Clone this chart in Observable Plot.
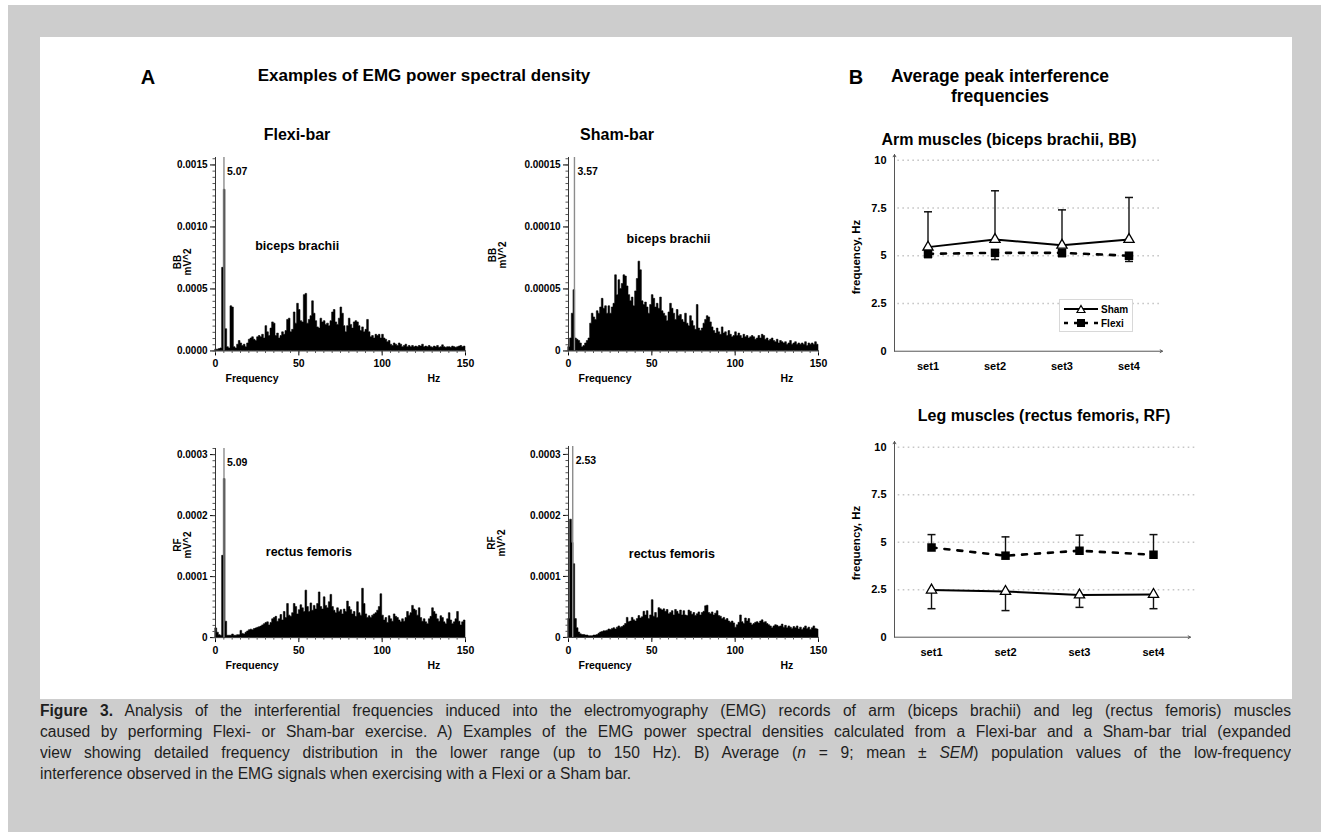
<!DOCTYPE html>
<html><head><meta charset="utf-8">
<script src="https://cdn.jsdelivr.net/npm/d3@7"></script>
<script src="https://cdn.jsdelivr.net/npm/@observablehq/plot@0.6"></script>
<style>
html,body{margin:0;padding:0;background:#fff;}
#root{position:relative;width:1321px;height:832px;overflow:hidden;font-family:"Liberation Sans",Arial,Helvetica,sans-serif;color:#000;}
.gray{position:absolute;left:8px;top:5px;right:0;bottom:0;background:#cdcdcd;}
.panel{position:absolute;left:40px;top:37px;width:1252px;height:662px;background:#fff;}
.t{position:absolute;white-space:nowrap;transform:translate(-50%,-50%);font-weight:bold;color:#000;text-align:center;}
.rot{transform:translate(-50%,-50%) rotate(-90deg);}
.cap{position:absolute;left:40px;top:700px;width:1251px;font-size:15.6px;color:#1e1e1e;line-height:21px;}
.cap div{height:21px;overflow:hidden;}
.just{text-align:justify;text-align-last:justify;}
.legend{position:absolute;left:1059px;top:299px;width:72px;height:31px;border:1px solid #d8d8d8;background:#fff;font-size:10px;font-weight:bold;}
.legend .row{position:absolute;left:3px;height:12px;display:flex;align-items:center;}
.legend svg{margin-right:2px;}
svg.plot{position:absolute;overflow:visible;}
</style></head>
<body><div id="root">
<div class="gray"></div>
<div class="panel"></div>
</div>
<script>
// ---------------- DATA ----------------
// Power spectra, 1-Hz bins starting at 0 Hz (bin i covers i..i+1 Hz)
const flexiBB = [ // units of 1e-4 mV^2
 0.1,0.1,0.15,0.2,6.7,13.0,1.75,0.3,0.2,3.6,
 3.5,0.3,0.2,0.5,0.8,0.6,0.4,0.5,0.3,0.6,
 0.9,1.0,1.1,0.9,0.8,1.1,1.2,1.1,1.3,1.0,
 2.0,1.5,1.2,1.8,2.3,2.2,1.2,1.4,1.0,1.2,
 1.5,1.3,1.6,2.5,2.6,1.5,1.7,3.1,2.2,3.8,
 3.3,2.4,2.3,4.5,4.6,2.2,2.5,2.8,4.0,3.0,
 2.4,1.9,1.8,2.6,2.3,2.4,2.1,2.2,2.0,2.4,
 3.1,3.3,2.3,2.1,2.6,3.5,3.0,2.0,1.5,2.0,
 2.6,2.1,1.8,2.3,2.4,2.3,2.0,1.6,1.9,1.5,
 1.7,2.5,1.5,1.1,1.2,1.0,1.3,1.2,1.3,1.0,
 1.3,1.0,0.9,0.7,0.8,0.5,0.4,0.6,0.5,0.4,
 0.6,0.5,0.3,0.4,0.5,0.3,0.4,0.3,0.4,0.3,
 0.35,0.3,0.4,0.35,0.5,0.3,0.35,0.3,0.4,0.3,
 0.25,0.35,0.3,0.4,0.25,0.3,0.45,0.3,0.25,0.3,
 0.3,0.25,0.35,0.3,0.25,0.3,0.35,0.4,0.3,0.35];
const shamBB = [ // units of 1e-5 mV^2
 0.3,1.0,3.0,4.9,1.0,0.9,0.8,0.6,0.3,0.4,
 0.6,0.8,1.0,2.2,3.0,2.7,2.5,3.2,3.0,3.5,
 4.2,3.4,3.6,3.0,3.6,3.0,3.5,3.8,6.1,4.5,
 5.7,5.0,5.4,6.1,6.0,5.2,4.5,4.0,4.3,3.6,
 4.8,5.8,7.2,6.5,4.0,3.7,3.9,3.5,3.0,3.7,
 4.5,4.2,3.5,3.8,3.4,4.3,3.2,3.0,2.8,2.4,
 3.1,3.8,3.4,3.0,2.5,3.3,2.8,2.9,2.5,2.3,
 3.0,2.2,2.0,2.8,2.4,2.0,1.7,3.7,1.8,1.6,
 1.8,2.2,2.5,2.8,2.7,2.3,1.9,1.6,1.4,1.8,
 1.5,1.3,1.9,1.4,1.5,1.2,1.6,1.3,1.1,1.2,
 1.5,1.2,1.4,1.2,1.0,1.3,1.1,1.2,1.0,1.1,
 1.2,1.1,0.9,1.0,1.2,1.0,1.3,1.2,0.9,1.0,
 0.8,0.9,1.0,0.8,0.7,0.9,0.6,0.8,0.7,0.6,
 0.7,0.5,0.6,0.8,0.5,0.6,0.7,0.5,0.6,0.5,
 0.6,0.5,0.7,0.4,0.6,0.5,0.6,0.5,0.7,0.5];
const flexiRF = [ // units of 1e-5 mV^2
 1.5,0.8,0.4,0.3,13.4,26,2.6,0.3,0.3,0.3,
 0.5,0.3,0.3,0.4,0.4,1.1,0.6,0.5,0.8,1.0,
 1.2,1.3,1.2,1.4,1.5,1.6,1.7,1.8,2.0,2.2,
 2.4,2.5,2.0,2.4,3.0,3.2,3.4,2.6,3.0,3.7,
 2.8,4.2,3.2,5.5,3.6,3.4,4.0,5.5,5.0,3.8,
 4.5,5.3,4.8,4.2,7.7,5.0,4.2,5.6,4.4,5.2,
 4.6,5.5,7.4,5.0,4.6,6.6,5.2,4.8,5.8,7.0,
 5.0,4.4,4.0,4.8,4.2,4.5,3.8,4.6,4.2,5.9,
 5.0,4.5,3.8,4.2,3.4,5.8,4.0,3.6,8.0,5.5,
 3.8,3.2,3.5,3.2,3.6,3.8,4.0,4.4,5.0,7.1,
 3.6,2.8,3.2,2.4,3.5,3.0,2.6,3.8,3.4,3.2,
 2.8,2.5,3.0,2.6,3.2,4.2,3.6,4.0,5.2,4.6,
 4.4,3.6,4.8,3.2,2.6,3.0,2.5,2.2,3.0,3.4,
 4.8,4.2,3.8,3.0,2.6,3.5,3.2,2.5,2.2,3.0,
 4.0,2.8,2.2,2.5,3.0,4.2,2.6,2.0,2.5,2.8];
const shamRF = [ // units of 1e-5 mV^2
 3.0,19.3,15.5,12.0,3.0,1.5,0.8,0.5,0.4,0.4,
 0.3,0.3,0.2,0.2,0.2,0.3,0.3,0.4,0.6,0.8,
 0.9,1.0,1.0,1.1,1.3,1.2,1.4,1.5,1.3,1.6,
 1.8,1.6,1.7,1.9,2.2,3.2,2.5,2.6,3.2,2.8,
 2.6,3.0,3.5,3.1,3.3,4.2,3.6,4.3,3.0,3.6,
 6.1,3.4,4.0,3.2,4.8,4.6,4.4,4.6,4.2,4.5,
 3.8,4.0,4.3,3.6,4.5,4.2,3.8,4.4,3.6,4.3,
 3.6,3.5,4.4,4.2,3.7,4.0,3.5,3.8,4.1,3.6,
 4.0,4.2,5.1,5.2,4.0,3.8,4.1,3.6,3.9,4.3,
 3.5,3.4,3.0,3.2,2.8,3.0,2.6,2.4,2.6,2.3,
 1.6,2.0,2.4,3.6,2.5,2.2,3.1,2.6,3.0,2.3,
 2.0,2.2,2.4,2.5,2.3,2.6,2.8,2.4,2.5,2.2,
 2.0,1.8,1.5,1.8,2.0,1.9,1.7,1.8,2.1,1.6,
 1.9,1.5,1.8,1.6,1.4,1.7,1.5,1.8,1.3,1.6,
 1.2,1.5,1.8,1.4,1.6,1.2,1.5,1.8,1.4,1.3];

const peakFreqs = [5.07, 3.57, 5.09, 2.53];
const peakLabels = ["5.07", "3.57", "5.09", "2.53"];

const freqTicks = [0, 50, 100, 150];
const bbFlexiTicks = [0, 5, 10, 15];
const bbFlexiTickLabels = ["0.0000", "0.0005", "0.0010", "0.0015"];
const bbShamTicks = [0, 5, 10, 15];
const bbShamTickLabels = ["0", "0.00005", "0.00010", "0.00015"];
const rfTicks = [0, 10, 20, 30];
const rfTickLabels = ["0", "0.0001", "0.0002", "0.0003"];

// Average peak interference frequencies (mean and SEM, Hz)
const sets = ["set1", "set2", "set3", "set4"];
const armShamMean = [5.45, 5.85, 5.55, 5.85];
const armShamSEM = [1.85, 2.55, 1.85, 2.2];
const armFlexiMean = [5.1, 5.15, 5.15, 5.0];
const armFlexiSEM = [0.2, 0.35, 0.2, 0.3];
const legShamMean = [2.48, 2.41, 2.22, 2.25];
const legShamSEM = [0.98, 1.01, 0.65, 0.75];
const legFlexiMean = [4.72, 4.29, 4.55, 4.34];
const legFlexiSEM = [0.68, 0.99, 0.82, 1.06];
const freqTicksB = [0, 2.5, 5, 7.5, 10];
const freqTickLabelsB = ["0", "2.5", "5", "7.5", "10"];

// ---------------- LAYOUT HELPERS ----------------
const root = document.getElementById("root");
const FONT = '"Liberation Sans", Arial, Helvetica, sans-serif';
function addText(txt, x, y, size, extra) {
  const d = document.createElement("div");
  d.className = "t" + (extra && extra.rot ? " rot" : "");
  d.style.left = x + "px"; d.style.top = y + "px"; d.style.fontSize = size + "px";
  if (extra && extra.lh) d.style.lineHeight = extra.lh + "px";
  d.innerHTML = txt;
  root.appendChild(d);
}
function place(svg, left, top) {
  svg.classList.add("plot");
  svg.style.left = left + "px"; svg.style.top = top + "px";
  svg.style.maxWidth = "none";
  root.appendChild(svg);
}

function spectrum(cfg) {
  const mL = 62, mR = 14, mT = 12, mB = 44, plotW = 250;
  const pxPerUnit = (cfg.yBase - cfg.yRefPx) / cfg.refVal;
  const plotH = cfg.yMax * pxPerUnit;
  const data = cfg.values.map((v, i) => ({f: i, v}));
  data.push({f: cfg.values.length, v: cfg.values[cfg.values.length - 1]});
  const minorY = d3.range(0, cfg.yMax + 1e-9, cfg.minorStep);
  const minorX = d3.range(0, 151, 5);
  const svg = Plot.plot({
    width: mL + plotW + mR, height: mT + plotH + mB,
    marginLeft: mL, marginRight: mR, marginTop: mT, marginBottom: mB,
    x: {domain: [0, 150]}, y: {domain: [0, cfg.yMax]},
    style: {fontFamily: FONT, fontSize: "10px", fontWeight: "bold", background: "transparent", color: "#000"},
    marks: [
      Plot.areaY(data, {x: "f", y: "v", curve: "step-after", fill: "#000", stroke: "#000", strokeWidth: 0.6}),
      Plot.ruleX([cfg.peak], {y1: 0, y2: cfg.yMax, stroke: "#8c8c8c", strokeWidth: 1.4}),
      Plot.text([cfg.peakLabel], {x: cfg.peak, y: cfg.yMax, dx: 3, dy: 14, textAnchor: "start", fontSize: 10.5}),
      Plot.ruleX([0], {y1: 0, y2: cfg.yMax, stroke: "#333"}),
      Plot.ruleY([0], {x1: 0, x2: 150, stroke: "#333"}),
      Plot.axisY({ticks: cfg.ticks, tickSize: 5, tickPadding: 3, label: null,
        tickFormat: d => cfg.tickLabels[cfg.ticks.indexOf(d)]}),
      Plot.axisY({ticks: minorY, tickSize: 2.5, tickFormat: () => "", label: null, stroke: "#555"}),
      Plot.axisX({ticks: freqTicks, tickSize: 5, tickPadding: 4, label: null, tickFormat: d => String(d), fontSize: 10.5}),
      Plot.axisX({ticks: minorX, tickSize: 2.5, tickFormat: () => "", label: null, stroke: "#555"}),
      Plot.text([cfg.muscle], {x: cfg.muscleAt[0], y: cfg.muscleAt[1], fontSize: 12.5}),
      Plot.text(["Frequency"], {x: 6, y: 0, dy: 28, textAnchor: "start", fontSize: 10.5}),
      Plot.text(["Hz"], {x: 131, y: 0, dy: 28, fontSize: 10.5})
    ]
  });
  place(svg, cfg.x0 - mL, cfg.yBase - plotH - mT);
}

const capSymbol = {draw(ctx, size) { const w = Math.sqrt(size / Math.PI); ctx.moveTo(-w, 0); ctx.lineTo(w, 0); }};

function averages(cfg) {
  const mL = 50, mR = 30, mT = 10, mB = 32;
  const yMax = 10.3;
  const plotH = yMax * cfg.pxPerUnit;
  const mk = (means, sems, dir) => means.map((m, i) => ({x: i + 0.5, m, e: m + dir * sems[i]}));
  const sham = mk(cfg.shamMean, cfg.shamSEM, cfg.shamDir);
  const flexi = mk(cfg.flexiMean, cfg.flexiSEM, cfg.flexiDir);
  const svg = Plot.plot({
    width: mL + cfg.plotW + mR, height: mT + plotH + mB,
    marginLeft: mL, marginRight: mR, marginTop: mT, marginBottom: mB,
    x: {domain: [0, 4]}, y: {domain: [0, yMax]},
    style: {fontFamily: FONT, fontSize: "11px", fontWeight: "bold", background: "transparent", color: "#000"},
    marks: [
      Plot.ruleY(freqTicksB.slice(1), {x1: 0.05, x2: cfg.gridEnd, stroke: "#c6c6c6", strokeWidth: 1.6, strokeDasharray: "1.6,3.4"}),
      Plot.arrow([{a: 0, b: 0, c: 0, d: yMax}], {x1: "a", y1: "b", x2: "c", y2: "d", stroke: "#555", strokeWidth: 1, headLength: 4}),
      Plot.arrow([{a: 0, b: 0, c: 4, d: 0}], {x1: "a", y1: "b", x2: "c", y2: "d", stroke: "#555", strokeWidth: 1, headLength: 4}),
      Plot.axisY({ticks: freqTicksB, tickSize: 0, tickPadding: 8, label: null,
        tickFormat: d => freqTickLabelsB[freqTicksB.indexOf(d)]}),
      Plot.axisX({ticks: [0.5, 1.5, 2.5, 3.5], tickSize: 0, tickPadding: 11, label: null,
        tickFormat: d => sets[Math.floor(d)]}),
      Plot.ruleX(sham, {x: "x", y1: "m", y2: "e", stroke: "#111", strokeWidth: 1.4}),
      Plot.dot(sham, {x: "x", y: "e", symbol: capSymbol, r: 4, stroke: "#111", strokeWidth: 1.5, fill: "none"}),
      Plot.ruleX(flexi, {x: "x", y1: "m", y2: "e", stroke: "#111", strokeWidth: 1.4}),
      Plot.dot(flexi, {x: "x", y: "e", symbol: capSymbol, r: 4, stroke: "#111", strokeWidth: 1.5, fill: "none"}),
      Plot.line(sham, {x: "x", y: "m", stroke: "#000", strokeWidth: 2}),
      Plot.line(flexi, {x: "x", y: "m", stroke: "#000", strokeWidth: 2.6, strokeDasharray: "5,8"}),
      Plot.dot(sham, {x: "x", y: "m", symbol: "triangle", r: 3.8, fill: "#fff", stroke: "#000", strokeWidth: 1.3}),
      Plot.dot(flexi, {x: "x", y: "m", symbol: "square", r: 4.8, fill: "#000", stroke: "none"})
    ]
  });
  place(svg, cfg.x0 - mL, cfg.yBase - plotH - mT);
}

// ---------------- PANEL A ----------------
spectrum({values: flexiBB, x0: 215, yBase: 350, yRefPx: 164, refVal: 15, yMax: 15.6, minorStep: 0.5,
  ticks: bbFlexiTicks, tickLabels: bbFlexiTickLabels, peak: peakFreqs[0], peakLabel: peakLabels[0],
  muscle: "biceps brachii", muscleAt: [49, 8.5]});
spectrum({values: shamBB, x0: 568, yBase: 350, yRefPx: 164, refVal: 15, yMax: 15.6, minorStep: 0.5,
  ticks: bbShamTicks, tickLabels: bbShamTickLabels, peak: peakFreqs[1], peakLabel: peakLabels[1],
  muscle: "biceps brachii", muscleAt: [60, 9.0]});
spectrum({values: flexiRF, x0: 215, yBase: 637, yRefPx: 454, refVal: 30, yMax: 31, minorStep: 1,
  ticks: rfTicks, tickLabels: rfTickLabels, peak: peakFreqs[2], peakLabel: peakLabels[2],
  muscle: "rectus femoris", muscleAt: [56, 14]});
spectrum({values: shamRF, x0: 568, yBase: 637, yRefPx: 454, refVal: 30, yMax: 31.3, minorStep: 1,
  ticks: rfTicks, tickLabels: rfTickLabels, peak: peakFreqs[3], peakLabel: peakLabels[3],
  muscle: "rectus femoris", muscleAt: [62, 13.6]});

// ---------------- PANEL B ----------------
averages({x0: 894, plotW: 268, yBase: 351, pxPerUnit: 19.1, gridEnd: 4,
  shamMean: armShamMean, shamSEM: armShamSEM, shamDir: 1,
  flexiMean: armFlexiMean, flexiSEM: armFlexiSEM, flexiDir: -1});
averages({x0: 894, plotW: 296, yBase: 637, pxPerUnit: 19.0, gridEnd: 4.1,
  shamMean: legShamMean, shamSEM: legShamSEM, shamDir: -1,
  flexiMean: legFlexiMean, flexiSEM: legFlexiSEM, flexiDir: 1});

// ---------------- TEXT ----------------
addText("A", 148, 77, 20);
addText("Examples of EMG power spectral density", 424, 76, 17);
addText("Flexi-bar", 297, 135, 16);
addText("Sham-bar", 617, 135, 16);
addText("B", 856, 77, 20);
addText("Average peak interference<br>frequencies", 1000, 86, 17.5, {lh: 20});
addText("Arm muscles (biceps brachii, BB)", 1009, 140, 16);
addText("Leg muscles (rectus femoris, RF)", 1044, 416, 16);
addText("BB<br>mV^2", 183, 262, 10, {rot: true, lh: 10});
addText("BB<br>mV^2", 498, 255, 10, {rot: true, lh: 10});
addText("RF<br>mV^2", 183, 545, 10, {rot: true, lh: 10});
addText("RF<br>mV^2", 497, 543, 10, {rot: true, lh: 10});
addText("frequency, Hz", 856, 257, 11.5, {rot: true});
addText("frequency, Hz", 856, 543, 11.5, {rot: true});

// legend
const lg = document.createElement("div");
lg.className = "legend";
lg.innerHTML =
 '<div class="row" style="top:3px"><svg width="36" height="10"><line x1="1" y1="5" x2="35" y2="5" stroke="#000" stroke-width="2"/><path d="M18,1.5 L22,8.5 L14,8.5 Z" fill="#fff" stroke="#000" stroke-width="1.2"/></svg>Sham</div>' +
 '<div class="row" style="top:17px"><svg width="36" height="10"><line x1="1" y1="5" x2="35" y2="5" stroke="#000" stroke-width="2.5" stroke-dasharray="4,6"/><rect x="14" y="1" width="8" height="8" fill="#000"/></svg>Flexi</div>';
root.appendChild(lg);

// caption
const cap = document.createElement("div");
cap.className = "cap";
cap.innerHTML =
 '<div class="just"><b>Figure 3.</b> Analysis of the interferential frequencies induced into the electromyography (EMG) records of arm (biceps brachii) and leg (rectus femoris) muscles</div>' +
 '<div class="just">caused by performing Flexi- or Sham-bar exercise. A) Examples of the EMG power spectral densities calculated from a Flexi-bar and a Sham-bar trial (expanded</div>' +
 '<div class="just">view showing detailed frequency distribution in the lower range (up to 150 Hz). B) Average (<i>n</i> = 9; mean ± <i>SEM</i>) population values of the low-frequency</div>' +
 '<div>interference observed in the EMG signals when exercising with a Flexi or a Sham bar.</div>';
root.appendChild(cap);
</script>
</body></html>
